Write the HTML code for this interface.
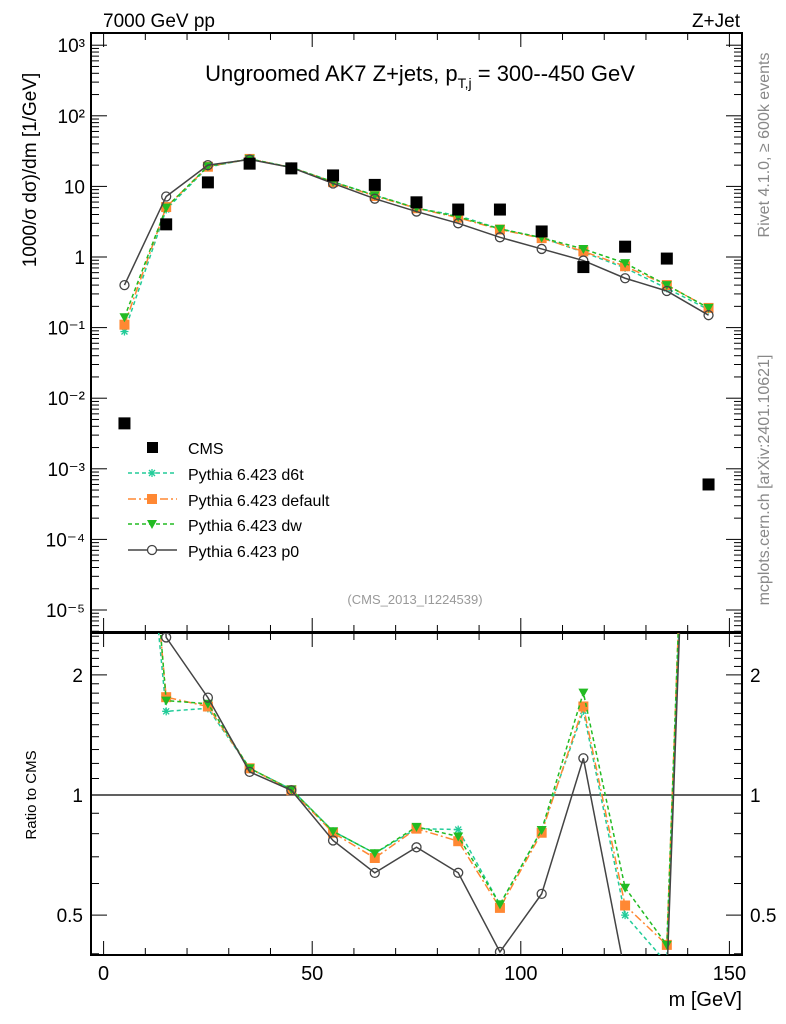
<!DOCTYPE html>
<html><head><meta charset="utf-8"><style>
body{margin:0;background:#fff;}
svg{display:block;font-family:"Liberation Sans",sans-serif;}
</style></head><body>
<svg id="c" width="786" height="1024" viewBox="0 0 786 1024" xmlns="http://www.w3.org/2000/svg">
<defs>
<clipPath id="cm"><rect x="91" y="33" width="651" height="599"/></clipPath>
<clipPath id="cr"><rect x="91" y="633" width="651" height="322"/></clipPath>
</defs>
<text x="103" y="27" font-size="19">7000 GeV pp</text>
<text x="740" y="27" font-size="19" text-anchor="end">Z+Jet</text>
<text x="420" y="81" font-size="22" text-anchor="middle">Ungroomed AK7 Z+jets, p<tspan font-size="14" dy="7">T,j</tspan><tspan dy="-7"> = 300--450 GeV</tspan></text>
<text transform="translate(769,145) rotate(-90)" font-size="16" fill="#888" text-anchor="middle">Rivet 4.1.0, ≥ 600k events</text>
<text transform="translate(769,480) rotate(-90)" font-size="16" fill="#888" text-anchor="middle">mcplots.cern.ch [arXiv:2401.10621]</text>
<text transform="translate(36,170) rotate(-90)" font-size="19" text-anchor="middle">1000/σ  dσ)/dm [1/GeV]</text>
<text transform="translate(36,795) rotate(-90)" font-size="15" text-anchor="middle">Ratio to CMS</text>
<text x="742" y="1006" font-size="20" text-anchor="end">m [GeV]</text>
<text x="415" y="604" font-size="13" fill="#999" text-anchor="middle">(CMS_2013_I1224539)</text>
<g id="axes"></g>
<g id="marks"></g>
<g id="legend"></g>
</svg>
<script>
const xs = [5,15,25,35,45,55,65,75,85,95,105,115,125,135,145];
const cms = [0.0044,2.9,11.4,21,18,14.3,10.5,5.95,4.7,4.7,2.3,0.72,1.4,0.95,0.0006];
const d6t = [0.088,4.7,18.8,24.5,18.6,11.6,7.5,4.9,3.85,2.5,1.88,1.17,0.70,0.36,0.18];
const dflt = [0.11,5.1,19,24.5,18.5,11.5,7.3,4.9,3.6,2.45,1.85,1.2,0.74,0.40,0.19];
const dw = [0.14,5.0,19.3,24.5,18.6,11.6,7.5,4.95,3.7,2.5,1.88,1.3,0.82,0.40,0.19];
const p0 = [0.4,7.2,20,24,18.5,11,6.7,4.4,3.0,1.9,1.3,0.89,0.5,0.33,0.15];
const xTicks = [0,50,100,150];
const mainTicks = [1e-5,1e-4,1e-3,1e-2,0.1,1,10,100,1000];
const mainTickLabels = ["10⁻⁵","10⁻⁴","10⁻³","10⁻²","10⁻¹","1","10","10²","10³"];
const ratioTicks = [0.5,1,2];
const ratioTickLabels = ["0.5","1","2"];

const NS="http://www.w3.org/2000/svg";
const L=91,R=742,MT=33,MB=632,RT=633,RB=955;
const X=v=>103.6+(v-0)*4.172;
const Ym=v=>257-70.6*Math.log10(v);
const Yr=v=>795-399*Math.log10(v);
function el(t,a,p){const e=document.createElementNS(NS,t);for(const k in a)e.setAttribute(k,a[k]);p.appendChild(e);return e;}
const ax=document.getElementById('axes'),mk=document.getElementById('marks'),lg=document.getElementById('legend');

let f1=el('rect',{x:L,y:MT,width:R-L,height:MB-MT,fill:'none',stroke:'#000','stroke-width':2},ax);


let f2=el('rect',{x:L,y:RT,width:R-L,height:RB-RT,fill:'none',stroke:'#000','stroke-width':2},ax);


let one=el('line',{x1:L,x2:R,y1:Yr(1),y2:Yr(1),stroke:'#000','stroke-width':1.3},ax);



for(let v=0;v<=150;v+=10){
  const big=v%50===0, h=big?14:7;
  for(const [top,bot] of [[MT,MB],[RT,RB]]){
    el('line',{x1:X(v),x2:X(v),y1:bot,y2:bot-h,stroke:'#000'},ax);
    el('line',{x1:X(v),x2:X(v),y1:top,y2:top+h,stroke:'#000'},ax);
  }
}
xTicks.forEach(v=>{const t=el('text',{x:X(v),y:980,'font-size':20,'text-anchor':'middle'},ax);t.textContent=v;

});
mainTicks.forEach((v,i)=>{
  const y=Ym(v);
  el('line',{x1:L,x2:L+16,y1:y,y2:y,stroke:'#000'},ax);
  el('line',{x1:R,x2:R-16,y1:y,y2:y,stroke:'#000'},ax);
  for(let m=2;m<=9;m++){const ym=Ym(v*m);if(ym<MT)break;
    el('line',{x1:L,x2:L+8,y1:ym,y2:ym,stroke:'#000'},ax);
    el('line',{x1:R,x2:R-8,y1:ym,y2:ym,stroke:'#000'},ax);}
  const t=el('text',{x:L-6,y:y+7,'font-size':19,'text-anchor':'end'},ax);t.textContent=mainTickLabels[i];
  
  
});
for(let m=2;m<=9;m++){const ym=Ym(m*1e-6);if(ym<MB){el('line',{x1:L,x2:L+8,y1:ym,y2:ym,stroke:'#000'},ax);el('line',{x1:R,x2:R-8,y1:ym,y2:ym,stroke:'#000'},ax);}}
for(let v=0.4;v<=2.55;v+=0.1){const y=Yr(v);if(y<RT||y>RB)continue;
  const big=ratioTicks.some(r=>Math.abs(r-v)<1e-6);
  el('line',{x1:L,x2:L+(big?16:8),y1:y,y2:y,stroke:'#000'},ax);
  el('line',{x1:R,x2:R-(big?16:8),y1:y,y2:y,stroke:'#000'},ax);}
ratioTicks.forEach((v,i)=>{
  const t=el('text',{x:L-8,y:Yr(v)+7,'font-size':19,'text-anchor':'end'},ax);t.textContent=ratioTickLabels[i];
  
  
  const t2=el('text',{x:R+8,y:Yr(v)+7,'font-size':19},ax);t2.textContent=ratioTickLabels[i];
  
  
});

function marker(type,color,x,y,g){
  if(type==='sq') el('rect',{x:x-5,y:y-5,width:10,height:10,fill:color},g);
  else if(type==='tri') el('path',{d:`M${x-5},${y-4}L${x+5},${y-4}L${x},${y+5}Z`,fill:color},g);
  else if(type==='circ') el('circle',{cx:x,cy:y,r:4.5,fill:'none',stroke:color,'stroke-width':1.3},g);
  else if(type==='star'){el('path',{d:`M${x-4},${y}H${x+4}M${x},${y-4}V${y+4}M${x-3},${y-3}L${x+3},${y+3}M${x-3},${y+3}L${x+3},${y-3}`,stroke:color,'stroke-width':1.3},g);}
}
const series=[
  {name:'d6t',data:d6t,color:'#22cc99',dash:'4,3',m:'star',label:'Pythia 6.423 d6t'},
  {name:'default',data:dflt,color:'#ff8833',dash:'8,3,2,3',m:'sq',label:'Pythia 6.423 default'},
  {name:'dw',data:dw,color:'#22bb22',dash:'4,3',m:'tri',label:'Pythia 6.423 dw'},
  {name:'p0',data:p0,color:'#444',dash:'',m:'circ',label:'Pythia 6.423 p0'}
];
const gm=el('g',{'clip-path':'url(#cm)'},mk), gr=el('g',{'clip-path':'url(#cr)'},mk);
series.forEach(s=>{
  const a={fill:'none',stroke:s.color,'stroke-width':1.5};if(s.dash)a['stroke-dasharray']=s.dash;
  const pm=el('polyline',Object.assign({points:xs.map((x,i)=>X(x)+','+Ym(s.data[i])).join(' ')},a),gm);
  
  
  const pr=el('polyline',Object.assign({points:xs.map((x,i)=>X(x)+','+Yr(s.data[i]/cms[i])).join(' ')},a),gr);
  
  
  xs.forEach((x,i)=>{marker(s.m,s.color,X(x),Ym(s.data[i]),gm);marker(s.m,s.color,X(x),Yr(s.data[i]/cms[i]),gr);});
});
xs.forEach((x,i)=>{const r=el('rect',{x:X(x)-6,y:Ym(cms[i])-6,width:12,height:12,fill:'#000'},gm);
  
  });

const ly=[447,473,499,524,550];
let cmsg=el('g',{},lg);


el('rect',{x:147,y:ly[0]-5,width:11,height:11,fill:'#000'},cmsg);
let tt=el('text',{x:188,y:ly[0]+7,'font-size':16},cmsg);tt.textContent='CMS';
series.forEach((s,i)=>{
  const g=el('g',{},lg);
  
  
  const y=ly[i+1];
  const a={x1:128,x2:177,y1:y,y2:y,stroke:s.color,'stroke-width':1.5};if(s.dash)a['stroke-dasharray']=s.dash;
  el('line',a,g);
  if(s.m==='circ')el('circle',{cx:152,cy:y,r:4.5,fill:'#fff',stroke:s.color,'stroke-width':1.3},g);
  else marker(s.m,s.color,152,y,g);
  const t=el('text',{x:188,y:y+7,'font-size':16},g);t.textContent=s.label;
});
</script>
</body></html>
